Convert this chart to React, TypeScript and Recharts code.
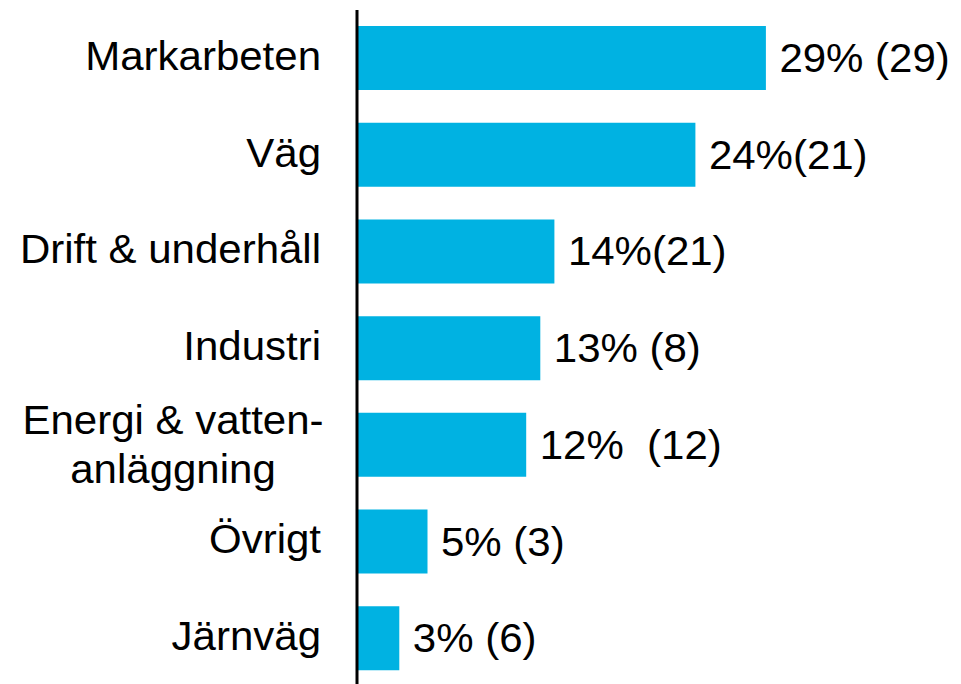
import { BarChart, Bar, XAxis, YAxis, LabelList } from "recharts";

const categories = [
  "Markarbeten",
  "Väg",
  "Drift & underhåll",
  "Industri",
  "Energi & vatten-\nanläggning",
  "Övrigt",
  "Järnväg",
];
const percentages = [29, 24, 14, 13, 12, 5, 3];
const valueLabels = [
  "29% (29)",
  "24%(21)",
  "14%(21)",
  "13% (8)",
  "12%  (12)",
  "5% (3)",
  "3% (6)",
];

const FONT = '"Liberation Sans", Arial, Helvetica, sans-serif';
const BAR_COLOR = "#00B2E2";
// the original text is slightly wide, like a horizontally stretched Arial
const STRETCH = 1.05;

const data = categories.map((name, i) => ({
  name,
  value: percentages[i],
  label: valueLabels[i],
}));

function CategoryTick(props: any) {
  const { x, y, payload } = props;
  const lines = String(payload.value).split("\n");
  if (lines.length === 1) {
    return (
      <g transform={`translate(${x},${y}) scale(${STRETCH},1)`}>
        <text
          x={0}
          y={11.5}
          textAnchor="end"
          fontSize={40}
          fontFamily={FONT}
          fill="#000"
        >
          {lines[0]}
        </text>
      </g>
    );
  }
  // two-line label, centred as a block
  return (
    <g
      transform={`translate(${x - 148},${y}) scale(${STRETCH},1)`}
      fontSize={40}
      fontFamily={FONT}
      fill="#000"
    >
      <text x={0} y={-11} textAnchor="middle">
        {lines[0]}
      </text>
      <text x={0} y={38} textAnchor="middle">
        {lines[1]}
      </text>
    </g>
  );
}

function ValueLabel(props: any) {
  const { x, y, width, height, value } = props;
  return (
    <g
      transform={`translate(${x + width + 13.5},${y + height / 2}) scale(${STRETCH},1)`}
    >
      <text
        x={0}
        y={14}
        fontSize={40}
        fontFamily={FONT}
        fill="#000"
        style={{ whiteSpace: "pre" }}
      >
        {value}
      </text>
    </g>
  );
}

export default function App() {
  return (
    <div
      style={{
        position: "absolute",
        left: 0,
        top: 0,
        width: 961,
        height: 684,
        overflow: "hidden",
        background: "#fff",
      }}
    >
      <BarChart
        width={961}
        height={700}
        data={data}
        layout="vertical"
        margin={{ top: 10, right: 40, bottom: 13, left: 0 }}
      >
        <XAxis type="number" domain={[0, 40]} hide />
        <YAxis
          type="category"
          dataKey="name"
          width={357}
          axisLine={{ stroke: "#000", strokeWidth: 3 }}
          tickLine={false}
          tickSize={0}
          tickMargin={36}
          tick={<CategoryTick />}
          interval={0}
        />
        <Bar
          dataKey="value"
          fill={BAR_COLOR}
          barSize={64}
          isAnimationActive={false}
        >
          <LabelList dataKey="label" content={<ValueLabel />} />
        </Bar>
      </BarChart>
    </div>
  );
}
